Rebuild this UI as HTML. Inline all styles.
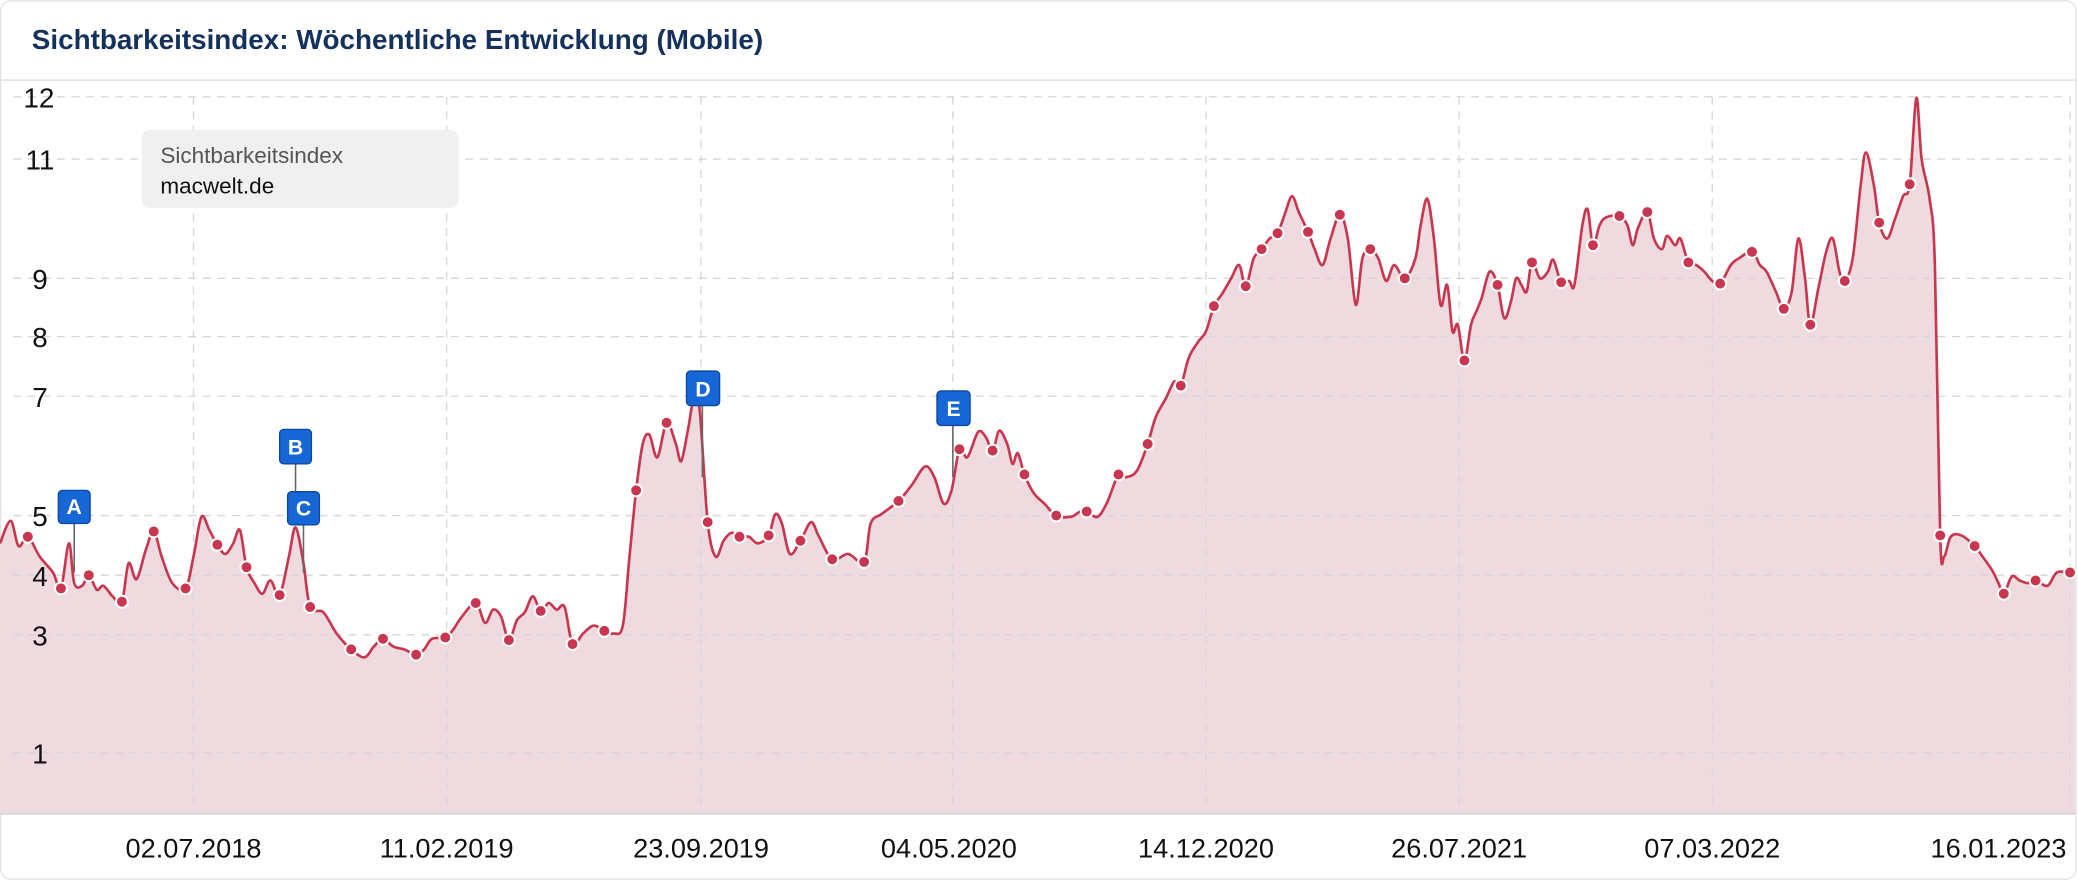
<!DOCTYPE html>
<html><head><meta charset="utf-8"><style>
html,body{margin:0;padding:0;background:#fff;}
svg{display:block;}
text{font-family:"Liberation Sans",Arial,sans-serif;}
</style></head><body>
<svg id="s" width="2078" height="880" viewBox="0 0 1568 664" xmlns="http://www.w3.org/2000/svg">
<rect x="0.5" y="0.5" width="1566" height="663" rx="8" fill="#fff" stroke="#e2e2e2"/>
<text x="24" y="37" font-size="21" font-weight="bold" fill="#13315c">Sichtbarkeitsindex: Wöchentliche Entwicklung (Mobile)</text>
<line x1="0" y1="60.5" x2="1566" y2="60.5" stroke="#e6e6e6" stroke-width="1.5"/>
<g id="fillg"></g>
<g stroke="#d6d6d6" stroke-width="1" stroke-dasharray="6,5">
<line x1="10" y1="73" x2="1562" y2="73"/>
<line x1="10" y1="120" x2="1562" y2="120"/>
<line x1="10" y1="210" x2="1562" y2="210"/>
<line x1="10" y1="254" x2="1562" y2="254"/>
<line x1="10" y1="299" x2="1562" y2="299"/>
<line x1="10" y1="389" x2="1562" y2="389"/>
<line x1="10" y1="434" x2="1562" y2="434"/>
<line x1="10" y1="479" x2="1562" y2="479"/>
<line x1="10" y1="568" x2="1562" y2="568"/>
<line x1="146" y1="73" x2="146" y2="614"/>
<line x1="337" y1="73" x2="337" y2="614"/>
<line x1="529" y1="73" x2="529" y2="614"/>
<line x1="719" y1="73" x2="719" y2="614"/>
<line x1="910" y1="73" x2="910" y2="614"/>
<line x1="1101" y1="73" x2="1101" y2="614"/>
<line x1="1292" y1="73" x2="1292" y2="614"/>
<line x1="1562" y1="73" x2="1562" y2="614"/>
</g>
<line x1="0" y1="614" x2="1566" y2="614" stroke="#d8d8d8" stroke-width="1.5"/>
<g font-size="21" fill="#111" text-anchor="end">
<text x="41" y="81">12</text><text x="41" y="128">11</text><text x="36" y="218">9</text>
<text x="36" y="262">8</text><text x="36" y="307">7</text><text x="36" y="397">5</text>
<text x="36" y="442">4</text><text x="36" y="487">3</text><text x="36" y="576">1</text>
</g>
<g font-size="20.5" fill="#111" text-anchor="middle">
<text x="146" y="647">02.07.2018</text><text x="337" y="647">11.02.2019</text>
<text x="529" y="647">23.09.2019</text><text x="716" y="647">04.05.2020</text>
<text x="910" y="647">14.12.2020</text><text x="1101" y="647">26.07.2021</text>
<text x="1292" y="647">07.03.2022</text><text x="1508" y="647">16.01.2023</text>
</g>
<g id="lineg"></g>
<rect x="107" y="98" width="239" height="59" rx="6" fill="#f0f0f0"/>
<text x="121" y="123" font-size="17" fill="#555">Sichtbarkeitsindex</text>
<text x="121" y="146" font-size="17" fill="#111">macwelt.de</text>
<g stroke="#666" stroke-width="1.2">
<line x1="56" y1="395" x2="56" y2="432"/>
<line x1="223" y1="350" x2="223" y2="372"/>
<line x1="229" y1="396" x2="229" y2="432"/>
<line x1="530" y1="306" x2="530" y2="360"/>
<line x1="719" y1="321" x2="719" y2="360"/>
</g>
<g fill="#1766d6" stroke="#0d47a1" stroke-width="1">
<rect x="44" y="370" width="24" height="25" rx="3"/>
<rect x="211" y="324" width="24" height="26" rx="3"/>
<rect x="217" y="371" width="24" height="25" rx="3"/>
<rect x="518" y="280" width="25" height="26" rx="3"/>
<rect x="707" y="295" width="25" height="26" rx="3"/>
</g>
<g fill="#fff" font-size="16" font-weight="bold" text-anchor="middle">
<text x="56" y="388">A</text><text x="223" y="343">B</text><text x="229" y="389">C</text>
<text x="530.5" y="299">D</text><text x="719.5" y="314">E</text>
</g>
</svg>
<script>
var P=[[0,410],[8,393],[14,412],[21,405,1],[30,420],[40,432],[46,444,1],[52,410],[56,440],[62,442],[67,434,1],[73,445],[78,442],[85,450],[92,454,1],[97,425],[103,437],[110,415],[116,401,1],[122,420],[130,440],[140,444,1],[146,420],[152,390],[158,400],[164,411,1],[170,418],[176,410],[181,400],[186,428,1],[192,440],[198,448],[204,438],[211,449,1],[218,420],[223,398],[229,425],[234,458,1],[244,462],[254,478],[265,490,1],[275,496],[282,488],[289,482,1],[297,488],[305,490],[314,494,1],[320,490],[326,482],[336,481,1],[342,475],[348,466],[359,455,1],[366,470],[372,460],[378,465],[384,483,1],[390,468],[396,462],[402,450],[408,461,1],[414,455],[420,460],[426,458],[432,486,1],[440,478],[448,472],[456,476,1],[463,478],[470,472],[475,420],[480,370,1],[485,335],[490,328],[496,345],[503,319,1],[510,335],[514,348],[519,325],[524,298],[528,310],[534,394,1],[540,420],[546,408],[552,402],[558,405,1],[565,405],[572,410],[580,404,1],[585,388],[590,395],[596,418],[604,408,1],[612,394],[618,405],[628,422,1],[640,418],[652,424,1],[657,395],[665,388],[678,378,1],[688,366],[698,352],[705,360],[712,380],[718,370],[724,339,1],[730,345],[738,326],[744,330],[749,340,1],[754,325],[760,335],[764,350],[768,342],[773,358,1],[780,372],[788,380],[797,389,1],[808,390],[815,386],[820,386,1],[828,390],[835,380],[844,358,1],[850,360],[858,355],[866,335,1],[872,315],[880,300],[886,288],[891,291,1],[897,270],[904,258],[910,250],[916,231,1],[922,222],[929,210],[935,200],[940,216,1],[946,195],[952,188,1],[958,180],[964,176,1],[970,160],[975,148],[980,160],[987,175,1],[992,188],[998,200],[1004,180],[1011,162,1],[1017,180],[1023,230],[1028,195],[1034,188,1],[1040,195],[1046,212],[1052,200],[1060,210,1],[1068,195],[1072,170],[1077,150],[1082,180],[1087,230],[1092,215],[1096,250],[1100,245],[1105,272,1],[1110,245],[1114,235],[1118,225],[1124,205],[1130,215,1],[1135,240],[1140,228],[1144,210],[1148,215],[1152,220],[1156,198,1],[1162,210],[1168,205],[1172,196],[1178,213,1],[1184,212],[1188,215],[1194,170],[1198,158],[1202,185,1],[1207,170],[1212,164],[1222,163,1],[1228,170],[1232,185],[1236,172],[1243,160,1],[1248,180],[1254,188],[1258,178],[1264,185],[1268,180],[1274,198,1],[1280,200],[1286,205],[1292,212],[1298,214,1],[1306,200],[1312,195],[1322,190,1],[1328,200],[1333,205],[1340,220],[1346,233,1],[1352,220],[1357,180],[1362,210],[1366,245,1],[1372,218],[1378,190],[1383,180],[1388,205],[1392,212,1],[1398,195],[1404,140],[1408,115],[1414,140],[1418,168,1],[1424,180],[1430,165],[1436,148],[1441,139,1],[1446,74],[1450,120],[1456,150],[1460,200],[1464,404,1],[1467,420],[1472,405],[1480,404],[1490,412,1],[1496,420],[1503,430],[1508,440],[1512,448,1],[1518,435],[1524,438],[1530,440],[1536,438,1],[1545,442],[1552,432],[1562,432,1]];
function path(p){var d="M"+p[0][0]+","+p[0][1];for(var i=0;i<p.length-1;i++){var a=p[i-1]||p[i],b=p[i],c=p[i+1],e=p[i+2]||c;var t=6;d+=" C"+(b[0]+(c[0]-a[0])/t).toFixed(1)+","+(b[1]+(c[1]-a[1])/t).toFixed(1)+" "+(c[0]-(e[0]-b[0])/t).toFixed(1)+","+(c[1]-(e[1]-b[1])/t).toFixed(1)+" "+c[0]+","+c[1];}return d;}
var d=path(P),ns="http://www.w3.org/2000/svg";
var f=document.createElementNS(ns,"path");f.setAttribute("d",d+" L1566,432 L1566,614 L0,614 Z");f.setAttribute("fill","#efdbdf");document.getElementById("fillg").appendChild(f);
var l=document.createElementNS(ns,"path");l.setAttribute("d",d);l.setAttribute("fill","none");l.setAttribute("stroke","#c8374f");l.setAttribute("stroke-width","2");var g=document.getElementById("lineg");g.appendChild(l);
P.forEach(function(p){if(p[2]){var c=document.createElementNS(ns,"circle");c.setAttribute("cx",p[0]);c.setAttribute("cy",p[1]);c.setAttribute("r","4.5");c.setAttribute("fill","#c8374f");c.setAttribute("stroke","#fff");c.setAttribute("stroke-width","1.5");g.appendChild(c);}});
</script>
</body></html>
